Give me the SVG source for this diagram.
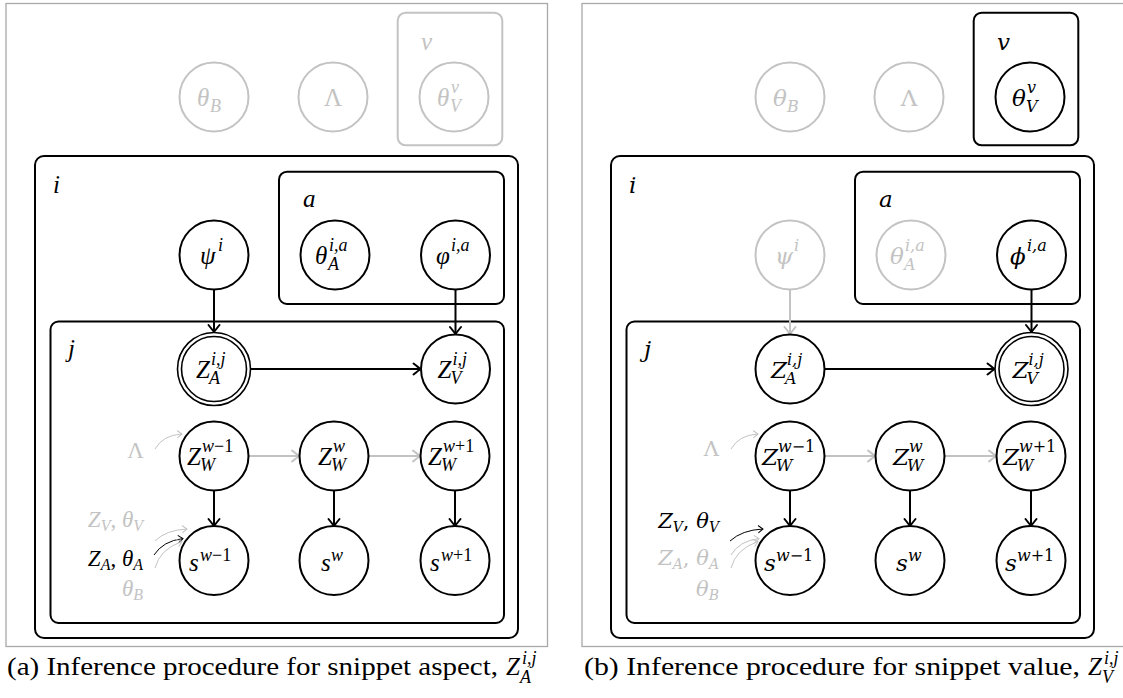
<svg xmlns="http://www.w3.org/2000/svg" width="1123" height="698" viewBox="0 0 1123 698">
<defs>
<marker id="ahk" viewBox="-9 -7 11 14" refX="0" refY="0" markerWidth="11" markerHeight="14" markerUnits="userSpaceOnUse" orient="auto"><path d="M-7,-5.5 Q-2,-1.5 0,0 Q-2,1.5 -7,5.5" fill="none" stroke="#000" stroke-width="2" stroke-linecap="round"/></marker>
<marker id="ahg" viewBox="-9 -7 11 14" refX="0" refY="0" markerWidth="11" markerHeight="14" markerUnits="userSpaceOnUse" orient="auto"><path d="M-7,-5.5 Q-2,-1.5 0,0 Q-2,1.5 -7,5.5" fill="none" stroke="#c3c3c3" stroke-width="2" stroke-linecap="round"/></marker>
<marker id="shk" viewBox="-6 -5 8 10" refX="0" refY="0" markerWidth="8" markerHeight="10" markerUnits="userSpaceOnUse" orient="auto"><path d="M-4.5,-3.5 Q-1.3,-1 0,0 Q-1.3,1 -4.5,3.5" fill="none" stroke="#000" stroke-width="1" stroke-linecap="round"/></marker>
<marker id="shg" viewBox="-6 -5 8 10" refX="0" refY="0" markerWidth="8" markerHeight="10" markerUnits="userSpaceOnUse" orient="auto"><path d="M-4.5,-3.5 Q-1.3,-1 0,0 Q-1.3,1 -4.5,3.5" fill="none" stroke="#c3c3c3" stroke-width="1" stroke-linecap="round"/></marker>
</defs>
<g id="panel-a">
<rect x="6" y="3.5" width="541.5" height="643" fill="none" stroke="#a8a8a8" stroke-width="1.3"/>
<g id="a-plate-v"><rect x="397.7" y="12.7" width="104.6" height="132.6" rx="8" fill="none" stroke="#c3c3c3" stroke-width="2"/><text font-family="Times New Roman" font-style="italic" x="421" y="50" font-size="25" fill="#c3c3c3">v</text></g>
<g id="a-plate-i"><rect x="35" y="156" width="483" height="482" rx="9" fill="none" stroke="#000" stroke-width="2"/><text font-family="Times New Roman" font-style="italic" x="53" y="193" font-size="25">i</text></g>
<g id="a-plate-a"><rect x="279" y="171.7" width="225" height="132.3" rx="8" fill="none" stroke="#000" stroke-width="2"/><text font-family="Times New Roman" font-style="italic" x="303" y="207" font-size="25">a</text></g>
<g id="a-plate-j"><rect x="50.5" y="321.5" width="453.5" height="301.5" rx="8" fill="none" stroke="#000" stroke-width="2"/><text font-family="Times New Roman" font-style="italic" x="68" y="357" font-size="25">j</text></g>
<g id="a-connectors" fill="none" stroke-width="2">
<path stroke="#000" marker-end="url(#ahk)" d="M214,289.5 L214,332"/>
<path stroke="#000" marker-end="url(#ahk)" d="M455.5,289.5 L455.5,334"/>
<path stroke="#000" marker-end="url(#ahk)" d="M250.5,369 L420.5,369"/>
<path stroke="#c3c3c3" marker-end="url(#ahg)" d="M248.5,456 L299,456"/>
<path stroke="#c3c3c3" marker-end="url(#ahg)" d="M368.5,456 L420,456"/>
<path stroke="#000" marker-end="url(#ahk)" d="M214,490.5 L214,526"/>
<path stroke="#000" marker-end="url(#ahk)" d="M334,490.5 L334,526"/>
<path stroke="#000" marker-end="url(#ahk)" d="M455,490.5 L455,526"/>
<path stroke="#c3c3c3" stroke-width="1" marker-end="url(#shg)" d="M155,449 Q163,435 182,434"/>
<path stroke="#c3c3c3" stroke-width="1" marker-end="url(#shg)" d="M155,541 Q166,530 187,529"/>
<path stroke="#000" stroke-width="1" marker-end="url(#shk)" d="M154,555 Q163,541 183,538.5"/>
<path stroke="#c3c3c3" stroke-width="1" marker-end="url(#shg)" d="M155,568 Q160,549 182,541.5"/>
</g>
<g id="a-theta-b"><circle cx="214" cy="97" r="34.5" fill="#fff" stroke="#c3c3c3" stroke-width="2"/><text font-family="Times New Roman" font-style="italic" fill="#c3c3c3" x="197" y="106" font-size="25">θ</text><text font-family="Times New Roman" font-style="italic" fill="#c3c3c3" x="210" y="112" font-size="18">B</text></g>
<g id="a-lambda"><circle cx="333" cy="97" r="34.5" fill="#fff" stroke="#c3c3c3" stroke-width="2"/><text font-family="Times New Roman" fill="#c3c3c3" x="333" y="106" font-size="25" text-anchor="middle">Λ</text></g>
<g id="a-theta-v"><circle cx="454" cy="97" r="34.5" fill="#fff" stroke="#c3c3c3" stroke-width="2"/><text font-family="Times New Roman" font-style="italic" fill="#c3c3c3" x="437" y="106" font-size="25">θ</text><text font-family="Times New Roman" font-style="italic" fill="#c3c3c3" x="451" y="93" font-size="18">v</text><text font-family="Times New Roman" font-style="italic" fill="#c3c3c3" x="450" y="112" font-size="18">V</text></g>
<g id="a-psi"><circle cx="214" cy="255" r="34.5" fill="#fff" stroke="#000" stroke-width="2"/><text font-family="Times New Roman" font-style="italic" x="200" y="264" font-size="25">ψ</text><text font-family="Times New Roman" font-style="italic" x="218" y="251" font-size="18">i</text></g>
<g id="a-theta-a"><circle cx="335" cy="255" r="34.5" fill="#fff" stroke="#000" stroke-width="2"/><text font-family="Times New Roman" font-style="italic" x="315" y="264" font-size="25">θ</text><text font-family="Times New Roman" font-style="italic" x="329" y="251" font-size="18">i,a</text><text font-family="Times New Roman" font-style="italic" x="328" y="270" font-size="18">A</text></g>
<g id="a-phi"><circle cx="455.5" cy="255" r="34.5" fill="#fff" stroke="#000" stroke-width="2"/><text font-family="Times New Roman" font-style="italic" x="436" y="264" font-size="25">φ</text><text font-family="Times New Roman" font-style="italic" x="451" y="251" font-size="18">i,a</text></g>
<g id="a-za"><circle cx="214" cy="369" r="36.5" fill="#fff" stroke="#000" stroke-width="1.6"/><circle cx="214" cy="369" r="32.5" fill="#fff" stroke="#000" stroke-width="1.6"/><text font-family="Times New Roman" font-style="italic" x="196" y="378" font-size="25">Z</text><text font-family="Times New Roman" font-style="italic" x="211" y="365" font-size="18">i,j</text><text font-family="Times New Roman" font-style="italic" x="209" y="384" font-size="18">A</text></g>
<g id="a-zv"><circle cx="455.5" cy="369" r="34.5" fill="#fff" stroke="#000" stroke-width="2"/><text font-family="Times New Roman" font-style="italic" x="437.5" y="378" font-size="25">Z</text><text font-family="Times New Roman" font-style="italic" x="452.5" y="365" font-size="18">i,j</text><text font-family="Times New Roman" font-style="italic" x="450.5" y="384" font-size="18">V</text></g>
<g id="a-zw1"><circle cx="214" cy="456" r="34.5" fill="#fff" stroke="#000" stroke-width="2"/><text font-family="Times New Roman" font-style="italic" x="187" y="465" font-size="25">Z</text><text font-family="Times New Roman" font-style="italic" x="202" y="452" font-size="18">w<tspan font-style="normal">−1</tspan></text><text font-family="Times New Roman" font-style="italic" x="200" y="471" font-size="18">W</text></g>
<g id="a-zw2"><circle cx="334" cy="456" r="34.5" fill="#fff" stroke="#000" stroke-width="2"/><text font-family="Times New Roman" font-style="italic" x="318" y="465" font-size="25">Z</text><text font-family="Times New Roman" font-style="italic" x="333" y="452" font-size="18">w</text><text font-family="Times New Roman" font-style="italic" x="331" y="471" font-size="18">W</text></g>
<g id="a-zw3"><circle cx="455" cy="456" r="34.5" fill="#fff" stroke="#000" stroke-width="2"/><text font-family="Times New Roman" font-style="italic" x="428" y="465" font-size="25">Z</text><text font-family="Times New Roman" font-style="italic" x="443" y="452" font-size="18">w<tspan font-style="normal">+1</tspan></text><text font-family="Times New Roman" font-style="italic" x="441" y="471" font-size="18">W</text></g>
<g id="a-s1"><circle cx="214" cy="560.5" r="34.5" fill="#fff" stroke="#000" stroke-width="2"/><text font-family="Times New Roman" font-style="italic" x="189" y="571" font-size="25">s</text><text font-family="Times New Roman" font-style="italic" x="200" y="561" font-size="18">w<tspan font-style="normal">−1</tspan></text></g>
<g id="a-s2"><circle cx="334" cy="560.5" r="34.5" fill="#fff" stroke="#000" stroke-width="2"/><text font-family="Times New Roman" font-style="italic" x="321" y="571" font-size="25">s</text><text font-family="Times New Roman" font-style="italic" x="331" y="561" font-size="18">w</text></g>
<g id="a-s3"><circle cx="455" cy="560.5" r="34.5" fill="#fff" stroke="#000" stroke-width="2"/><text font-family="Times New Roman" font-style="italic" x="430" y="571" font-size="25">s</text><text font-family="Times New Roman" font-style="italic" x="441" y="561" font-size="18">w<tspan font-style="normal">+1</tspan></text></g>
<g id="a-labels">
<text font-family="Times New Roman" font-size="23" text-anchor="end" x="144" y="458" fill="#c3c3c3">Λ</text>
<text font-family="Times New Roman" font-style="italic" font-size="23" text-anchor="end" x="143" y="527" fill="#c3c3c3">Z<tspan font-size="16" dy="4">V</tspan><tspan font-style="normal" dy="-4">, </tspan>θ<tspan font-size="16" dy="4">V</tspan></text>
<text font-family="Times New Roman" font-style="italic" font-size="23" text-anchor="end" x="143" y="566">Z<tspan font-size="16" dy="4">A</tspan><tspan font-style="normal" dy="-4">, </tspan>θ<tspan font-size="16" dy="4">A</tspan></text>
<text font-family="Times New Roman" font-style="italic" font-size="23" text-anchor="end" x="143" y="596" fill="#c3c3c3">θ<tspan font-size="16" dy="4">B</tspan></text>
</g>
<g id="a-caption">
<text font-family="Liberation Serif" x="7" y="675" font-size="25" textLength="491" lengthAdjust="spacingAndGlyphs">(a) Inference procedure for snippet aspect,</text>
<text font-family="Liberation Serif" font-style="italic" x="506" y="675" font-size="25">Z</text><text font-family="Liberation Serif" font-style="italic" x="522" y="664" font-size="18">i,j</text><text font-family="Liberation Serif" font-style="italic" x="520" y="683" font-size="18">A</text>
</g>
</g>
<g id="panel-b" transform="translate(576,0)">
<rect x="6" y="3.5" width="542" height="643" fill="none" stroke="#a8a8a8" stroke-width="1.3"/>
<g id="b-plate-v"><rect x="397.7" y="12.7" width="104.6" height="132.6" rx="8" fill="none" stroke="#000" stroke-width="2"/><text font-family="DejaVu Serif" font-style="italic" x="421" y="50" font-size="23">v</text></g>
<g id="b-plate-i"><rect x="35" y="156" width="483" height="482" rx="9" fill="none" stroke="#000" stroke-width="2"/><text font-family="DejaVu Serif" font-style="italic" x="53" y="193" font-size="23">i</text></g>
<g id="b-plate-a"><rect x="279" y="171.7" width="225" height="132.3" rx="8" fill="none" stroke="#000" stroke-width="2"/><text font-family="DejaVu Serif" font-style="italic" x="303" y="207" font-size="23">a</text></g>
<g id="b-plate-j"><rect x="50.5" y="321.5" width="453.5" height="301.5" rx="8" fill="none" stroke="#000" stroke-width="2"/><text font-family="DejaVu Serif" font-style="italic" x="68" y="357" font-size="23">j</text></g>
<g id="b-connectors" fill="none" stroke-width="2">
<path stroke="#c3c3c3" marker-end="url(#ahg)" d="M214,289.5 L214,334"/>
<path stroke="#000" marker-end="url(#ahk)" d="M455.5,289.5 L455.5,332"/>
<path stroke="#000" marker-end="url(#ahk)" d="M248.5,369 L418.5,369"/>
<path stroke="#c3c3c3" marker-end="url(#ahg)" d="M248.5,456 L299,456"/>
<path stroke="#c3c3c3" marker-end="url(#ahg)" d="M368.5,456 L420,456"/>
<path stroke="#000" marker-end="url(#ahk)" d="M214,490.5 L214,526"/>
<path stroke="#000" marker-end="url(#ahk)" d="M334,490.5 L334,526"/>
<path stroke="#000" marker-end="url(#ahk)" d="M455,490.5 L455,526"/>
<path stroke="#c3c3c3" stroke-width="1" marker-end="url(#shg)" d="M155,449 Q163,435 182,434"/>
<path stroke="#000" stroke-width="1" marker-end="url(#shk)" d="M154,541 Q166,530 187,529"/>
<path stroke="#c3c3c3" stroke-width="1" marker-end="url(#shg)" d="M155,555 Q163,541 183,538.5"/>
<path stroke="#c3c3c3" stroke-width="1" marker-end="url(#shg)" d="M155,568 Q160,549 182,541.5"/>
</g>
<g id="b-theta-b"><circle cx="214" cy="97" r="34.5" fill="#fff" stroke="#c3c3c3" stroke-width="2"/><text font-family="DejaVu Serif" font-style="italic" fill="#c3c3c3" x="197" y="106" font-size="23">θ</text><text font-family="DejaVu Serif" font-style="italic" fill="#c3c3c3" x="211" y="112" font-size="16">B</text></g>
<g id="b-lambda"><circle cx="333" cy="97" r="34.5" fill="#fff" stroke="#c3c3c3" stroke-width="2"/><text font-family="DejaVu Serif" fill="#c3c3c3" x="333" y="106" font-size="23" text-anchor="middle">Λ</text></g>
<g id="b-theta-v"><circle cx="454" cy="97" r="34.5" fill="#fff" stroke="#000" stroke-width="2"/><text font-family="DejaVu Serif" font-style="italic" x="436" y="106" font-size="23">θ</text><text font-family="DejaVu Serif" font-style="italic" x="451" y="93" font-size="16">v</text><text font-family="DejaVu Serif" font-style="italic" x="450" y="112" font-size="16">V</text></g>
<g id="b-psi"><circle cx="214" cy="255" r="34.5" fill="#fff" stroke="#c3c3c3" stroke-width="2"/><text font-family="DejaVu Serif" font-style="italic" fill="#c3c3c3" x="199" y="264" font-size="23">ψ</text><text font-family="DejaVu Serif" font-style="italic" fill="#c3c3c3" x="218" y="251" font-size="16">i</text></g>
<g id="b-theta-a"><circle cx="335" cy="255" r="34.5" fill="#fff" stroke="#c3c3c3" stroke-width="2"/><text font-family="DejaVu Serif" font-style="italic" fill="#c3c3c3" x="314" y="264" font-size="23">θ</text><text font-family="DejaVu Serif" font-style="italic" fill="#c3c3c3" x="329" y="251" font-size="16">i,a</text><text font-family="DejaVu Serif" font-style="italic" fill="#c3c3c3" x="328" y="270" font-size="16">A</text></g>
<g id="b-phi"><circle cx="455.5" cy="255" r="34.5" fill="#fff" stroke="#000" stroke-width="2"/><text font-family="DejaVu Serif" font-style="italic" x="434" y="264" font-size="23">ϕ</text><text font-family="DejaVu Serif" font-style="italic" x="451" y="251" font-size="16">i,a</text></g>
<g id="b-za"><circle cx="214" cy="369" r="34.5" fill="#fff" stroke="#000" stroke-width="2"/><text font-family="DejaVu Serif" font-style="italic" x="195" y="378" font-size="23">Z</text><text font-family="DejaVu Serif" font-style="italic" x="211" y="365" font-size="16">i,j</text><text font-family="DejaVu Serif" font-style="italic" x="209" y="384" font-size="16">A</text></g>
<g id="b-zv"><circle cx="455.5" cy="369" r="36.5" fill="#fff" stroke="#000" stroke-width="1.6"/><circle cx="455.5" cy="369" r="32.5" fill="#fff" stroke="#000" stroke-width="1.6"/><text font-family="DejaVu Serif" font-style="italic" x="436.5" y="378" font-size="23">Z</text><text font-family="DejaVu Serif" font-style="italic" x="452.5" y="365" font-size="16">i,j</text><text font-family="DejaVu Serif" font-style="italic" x="450.5" y="384" font-size="16">V</text></g>
<g id="b-zw1"><circle cx="214" cy="456" r="34.5" fill="#fff" stroke="#000" stroke-width="2"/><text font-family="DejaVu Serif" font-style="italic" x="186" y="465" font-size="23">Z</text><text font-family="DejaVu Serif" font-style="italic" x="202" y="452" font-size="16">w<tspan font-style="normal">−1</tspan></text><text font-family="DejaVu Serif" font-style="italic" x="200" y="471" font-size="16">W</text></g>
<g id="b-zw2"><circle cx="334" cy="456" r="34.5" fill="#fff" stroke="#000" stroke-width="2"/><text font-family="DejaVu Serif" font-style="italic" x="317" y="465" font-size="23">Z</text><text font-family="DejaVu Serif" font-style="italic" x="333" y="452" font-size="16">w</text><text font-family="DejaVu Serif" font-style="italic" x="331" y="471" font-size="16">W</text></g>
<g id="b-zw3"><circle cx="455" cy="456" r="34.5" fill="#fff" stroke="#000" stroke-width="2"/><text font-family="DejaVu Serif" font-style="italic" x="427" y="465" font-size="23">Z</text><text font-family="DejaVu Serif" font-style="italic" x="443" y="452" font-size="16">w<tspan font-style="normal">+1</tspan></text><text font-family="DejaVu Serif" font-style="italic" x="441" y="471" font-size="16">W</text></g>
<g id="b-s1"><circle cx="214" cy="560.5" r="34.5" fill="#fff" stroke="#000" stroke-width="2"/><text font-family="DejaVu Serif" font-style="italic" x="188" y="571" font-size="23">s</text><text font-family="DejaVu Serif" font-style="italic" x="200" y="561" font-size="16">w<tspan font-style="normal">−1</tspan></text></g>
<g id="b-s2"><circle cx="334" cy="560.5" r="34.5" fill="#fff" stroke="#000" stroke-width="2"/><text font-family="DejaVu Serif" font-style="italic" x="320" y="571" font-size="23">s</text><text font-family="DejaVu Serif" font-style="italic" x="332" y="561" font-size="16">w</text></g>
<g id="b-s3"><circle cx="455" cy="560.5" r="34.5" fill="#fff" stroke="#000" stroke-width="2"/><text font-family="DejaVu Serif" font-style="italic" x="429" y="571" font-size="23">s</text><text font-family="DejaVu Serif" font-style="italic" x="441" y="561" font-size="16">w<tspan font-style="normal">+1</tspan></text></g>
<g id="b-labels">
<text font-family="DejaVu Serif" font-size="21" text-anchor="end" x="143" y="456" fill="#c3c3c3">Λ</text>
<text font-family="DejaVu Serif" font-style="italic" font-size="21" text-anchor="end" x="143" y="528">Z<tspan font-size="14" dy="4">V</tspan><tspan font-style="normal" dy="-4">, </tspan>θ<tspan font-size="14" dy="4">V</tspan></text>
<text font-family="DejaVu Serif" font-style="italic" font-size="21" text-anchor="end" x="143" y="565" fill="#c3c3c3">Z<tspan font-size="14" dy="4">A</tspan><tspan font-style="normal" dy="-4">, </tspan>θ<tspan font-size="14" dy="4">A</tspan></text>
<text font-family="DejaVu Serif" font-style="italic" font-size="21" text-anchor="end" x="143" y="596" fill="#c3c3c3">θ<tspan font-size="14" dy="4">B</tspan></text>
</g>
<g id="b-caption">
<text style="font-family:'Liberation Serif',serif" x="8" y="675" font-size="25" textLength="496" lengthAdjust="spacingAndGlyphs">(b) Inference procedure for snippet value,</text>
<text style="font-family:'Liberation Serif',serif" font-style="italic" x="512" y="675" font-size="25">Z</text><text style="font-family:'Liberation Serif',serif" font-style="italic" x="528" y="664" font-size="18">i,j</text><text style="font-family:'Liberation Serif',serif" font-style="italic" x="526" y="683" font-size="18">V</text>
</g>
</g>
</svg>
